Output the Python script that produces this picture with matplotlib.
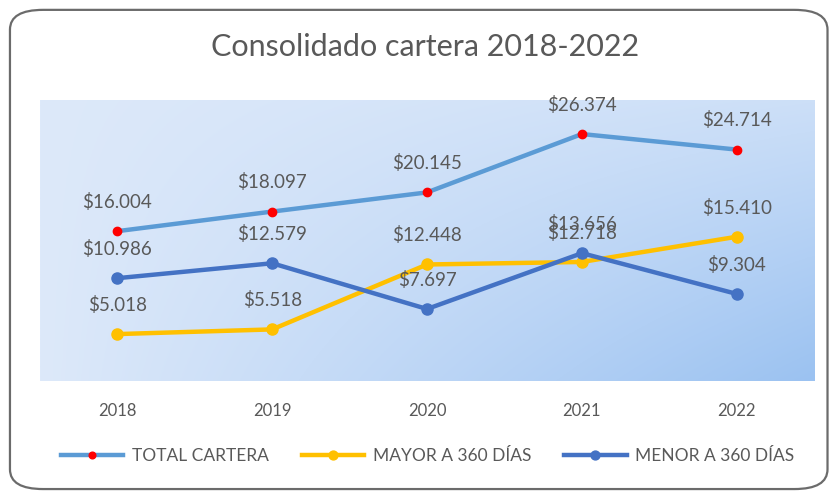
import numpy as np
import matplotlib
matplotlib.use('Agg')
import matplotlib.pyplot as plt
from matplotlib.patches import FancyBboxPatch

years = ['2018', '2019', '2020', '2021', '2022']
total = [16.004, 18.097, 20.145, 26.374, 24.714]
mayor = [5.018, 5.518, 12.448, 12.718, 15.410]
menor = [10.986, 12.579, 7.697, 13.656, 9.304]
names = ['TOTAL CARTERA', 'MAYOR A 360 DÍAS', 'MENOR A 360 DÍAS']

txt = '#595959'
plt.rcParams['font.family'] = ['Lato', 'DejaVu Sans']

fig = plt.figure(figsize=(8.3, 4.93), dpi=100)
fig.patch.set_facecolor('white')

# rounded outer frame
frame = FancyBboxPatch((0.012, 0.008), 0.985, 0.972, boxstyle='round,pad=0,rounding_size=0.04',
                       transform=fig.transFigure, fill=False, edgecolor='#6b6b6b', linewidth=1.6)
fig.patches.append(frame)

ax = fig.add_axes([0.048, 0.227, 0.933, 0.570])

# gradient background of plot area
gx, gy = np.meshgrid(np.linspace(0, 1, 300), np.linspace(1, 0, 200))
v = gx * (1 - 0.75 * gy)
light = np.array([221, 233, 250]) / 255.
dark = np.array([155, 194, 241]) / 255.
img = light[None, None, :] * (1 - v[..., None]) + dark[None, None, :] * v[..., None]
ax.imshow(img, extent=[0, 1, 0, 1], transform=ax.transAxes, aspect='auto', zorder=0)

x = np.arange(len(years))
l1, = ax.plot(x, total, color='#5B9BD5', lw=3.2, marker='o', ms=6, mfc='#FF0000', mec='#FF0000',
              zorder=3, label=names[0])
l2, = ax.plot(x, mayor, color='#FFC000', lw=3.2, marker='o', ms=8, zorder=3, label=names[1])
l3, = ax.plot(x, menor, color='#4472C4', lw=3.2, marker='o', ms=8, zorder=4, label=names[2])

for series in (total, mayor, menor):
    for xi, val in zip(x, series):
        ax.annotate('$%.3f' % val, (xi, val), xytext=(0, 21), textcoords='offset points',
                    ha='center', va='center', fontsize=13.5, color=txt, zorder=5)

ax.set_xlim(-0.5, 4.5)
ax.set_ylim(0, 30)
ax.set_xticks(x)
ax.set_xticklabels(years, fontsize=12, color=txt)
ax.set_yticks([])
ax.tick_params(axis='x', length=0, pad=16)
for s in ax.spines.values():
    s.set_visible(False)

fig.text(0.512, 0.905, 'Consolidado cartera 2018-2022', ha='center', va='center',
         fontsize=22, color=txt)

fig.legend(handles=[l1, l2, l3], loc='center', bbox_to_anchor=(0.515, 0.075), ncol=3,
           frameon=False, fontsize=12.5, labelcolor=txt, handlelength=3.6, columnspacing=1.9,
           handletextpad=0.5, markerscale=0.8)

fig.savefig('out.png', dpi=100, facecolor='white')
